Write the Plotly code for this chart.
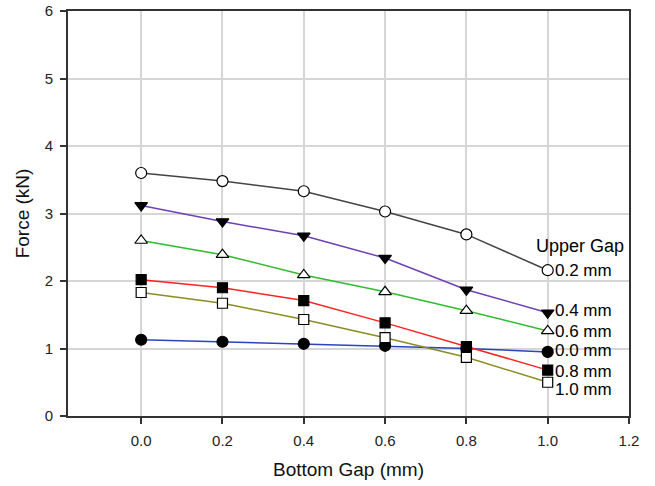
import plotly.graph_objects as go

bottom_gap = [0.0, 0.2, 0.4, 0.6, 0.8, 1.0]
upper_gaps = ["0.2 mm", "0.4 mm", "0.6 mm", "0.0 mm", "0.8 mm", "1.0 mm"]
force_02 = [3.60, 3.48, 3.33, 3.03, 2.69, 2.16]
force_04 = [3.12, 2.88, 2.67, 2.34, 1.87, 1.53]
force_06 = [2.60, 2.39, 2.09, 1.84, 1.56, 1.26]
force_00 = [1.13, 1.10, 1.07, 1.04, 1.00, 0.95]
force_08 = [2.02, 1.90, 1.71, 1.38, 1.03, 0.68]
force_10 = [1.83, 1.67, 1.43, 1.16, 0.87, 0.50]
x_ticks = [0.0, 0.2, 0.4, 0.6, 0.8, 1.0, 1.2]
y_ticks = [0, 1, 2, 3, 4, 5, 6]

series = [
    (force_02, "#444444", "circle-open", "white"),
    (force_04, "#6f3fb5", "triangle-down", "black"),
    (force_06, "#2ebd2e", "triangle-up-open", "white"),
    (force_00, "#2a44c0", "circle", "black"),
    (force_08, "#ff2222", "square", "black"),
    (force_10, "#8c8c22", "square-open", "white"),
]
label_dy = [0, 2, -1, 1, -1, -7]

FONT = "Liberation Sans, Arial"
fig = go.Figure()
for (vals, col, sym, fill) in series:
    base = sym.replace("-open", "")
    fig.add_trace(go.Scatter(
        x=bottom_gap, y=vals, mode="lines+markers",
        line=dict(color=col, width=1.5),
        marker=dict(symbol=base, size=11 if base != "square" else 10,
                    color=fill, line=dict(color="black", width=1.2)),
        showlegend=False, hoverinfo="skip"))

for name, (vals, *_), dy in zip(upper_gaps, series, label_dy):
    fig.add_annotation(x=bottom_gap[-1], y=vals[-1], text=name, showarrow=False,
                       xanchor="left", yanchor="middle", xshift=6, yshift=dy,
                       borderpad=0,
                       font=dict(size=17, color="black", family=FONT))
fig.add_annotation(x=bottom_gap[-1], y=force_02[-1], text="Upper Gap", showarrow=False,
                   xanchor="left", yanchor="middle", xshift=-13, yshift=24, borderpad=0,
                   font=dict(size=18, color="black", family=FONT))

axis_common = dict(showgrid=True, gridcolor="#d6d6d6", gridwidth=1.5,
                   showline=True, linecolor="#333333", linewidth=2, mirror=True,
                   ticks="outside", ticklen=6, tickcolor="#333333", tickwidth=1.5,
                   zeroline=False, automargin=False,
                   tickfont=dict(size=15, color="#222222"))
fig.update_xaxes(range=[-0.18, 1.2], tickvals=x_ticks, tickformat=".1f",
                 title=dict(text="Bottom Gap (mm)", font=dict(size=19, color="#111111"), standoff=15),
                 ticklabelstandoff=4, **axis_common)
fig.update_yaxes(range=[0, 6], tickvals=y_ticks,
                 title=dict(text="Force (kN)", font=dict(size=19, color="#111111"), standoff=10),
                 ticklabelstandoff=4, **axis_common)
fig.update_layout(width=655, height=486, margin=dict(l=68, r=26, t=11, b=70),
                  plot_bgcolor="white", paper_bgcolor="white",
                  font=dict(family=FONT))
fig.write_html("out.html")
